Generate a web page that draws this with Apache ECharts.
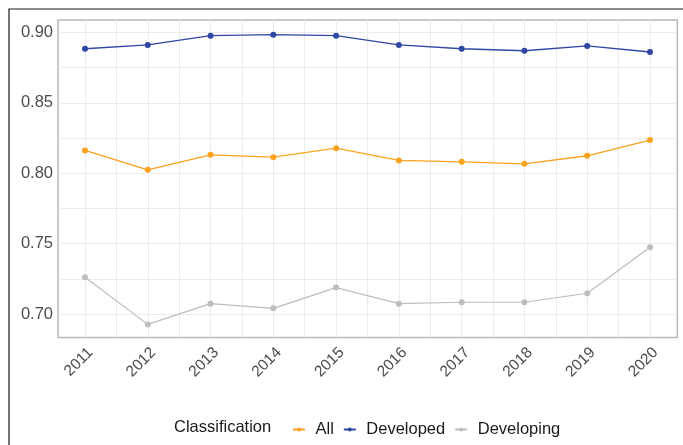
<!DOCTYPE html>
<html>
<head>
<meta charset="utf-8">
<script src="https://cdn.jsdelivr.net/npm/echarts@6/dist/echarts.min.js"></script>
<style>
  html, body { margin: 0; padding: 0; background: #fff; }
  #chart { width: 683px; height: 445px; }
</style>
</head>
<body>
<div id="chart"></div>
<script>
// years on the x axis
var years = [2011, 2012, 2013, 2014, 2015, 2016, 2017, 2018, 2019, 2020];
var minorYears = [2011.5, 2012.5, 2013.5, 2014.5, 2015.5, 2016.5, 2017.5, 2018.5, 2019.5];
var yTicks = [0.70, 0.75, 0.80, 0.85, 0.90];
var yMinor = [0.725, 0.775, 0.825, 0.875];

var allValues = [0.8162, 0.8024, 0.8131, 0.8114, 0.8178, 0.8091, 0.8081, 0.8067, 0.8124, 0.8235];
var developedValues = [0.8883, 0.8910, 0.8976, 0.8983, 0.8976, 0.8910, 0.8883, 0.8869, 0.8903, 0.8860];
var developingValues = [0.7262, 0.6928, 0.7075, 0.7042, 0.7189, 0.7075, 0.7085, 0.7085, 0.7149, 0.7475];

function pairs(vals) {
    return years.map(function (y, i) { return [y, vals[i]]; });
}

var font = 'Liberation Sans, Arial, sans-serif';
var gridColor = '#ebebeb';

var myChart = echarts.init(document.getElementById('chart'), null, {renderer: 'canvas'});
var option = {
    backgroundColor: '#fff',
    animation: false,
    grid: {
        left: 58,
        right: 5.7,
        top: 20,
        bottom: 107.5,
        show: true,
        borderColor: '#b8b8b8',
        borderWidth: 1.5
    },
    xAxis: {
        type: 'value',
        min: 2010.57,
        max: 2020.435,
        axisLine: {show: false},
        axisTick: {show: false, customValues: years.concat(minorYears)},
        splitLine: {lineStyle: {color: gridColor, width: 1}},
        axisLabel: {
            customValues: years,
            rotate: 45,
            margin: 7,
            verticalAlign: 'top',
            fontSize: 15.5,
            fontFamily: font,
            color: '#4d4d4d',
            formatter: function (v) { return String(Math.round(v)); }
        }
    },
    yAxis: {
        type: 'value',
        min: 0.6835,
        max: 0.9087,
        axisLine: {show: false},
        axisTick: {show: false, customValues: yTicks.concat(yMinor)},
        splitLine: {lineStyle: {color: gridColor, width: 1}},
        axisLabel: {
            customValues: yTicks,
            margin: 5,
            fontSize: 16.5,
            fontFamily: font,
            color: '#4d4d4d',
            formatter: function (v) { return v.toFixed(2); }
        }
    },
    legend: {
        left: 287,
        top: 416,
        itemWidth: 12,
        itemHeight: 5,
        itemGap: 9,
        textStyle: {fontSize: 16.5, fontFamily: font, color: '#1a1a1a', padding: [0, 0, 0, 5.5]},
        data: ['All', 'Developed', 'Developing']
    },
    graphic: [
        {
            type: 'rect',
            shape: {x: 9, y: 9, width: 700, height: 500},
            style: {fill: null, stroke: '#1a1a1a', lineWidth: 1.2},
            silent: true
        },
        {
            type: 'text',
            left: 174,
            top: 419,
            style: {text: 'Classification', fontSize: 16.5, fontFamily: font, fill: '#1a1a1a'}
        }
    ],
    series: [
        {
            name: 'All',
            type: 'line',
            symbol: 'circle',
            symbolSize: 6,
            color: '#fba21f',
            lineStyle: {width: 1.3},
            data: pairs(allValues)
        },
        {
            name: 'Developed',
            type: 'line',
            symbol: 'circle',
            symbolSize: 6,
            color: '#2f46a3',
            lineStyle: {width: 1.3},
            data: pairs(developedValues)
        },
        {
            name: 'Developing',
            type: 'line',
            symbol: 'circle',
            symbolSize: 6,
            color: '#bdbdbd',
            lineStyle: {width: 1.2},
            data: pairs(developingValues)
        }
    ]
};
myChart.setOption(option);
</script>
</body>
</html>
